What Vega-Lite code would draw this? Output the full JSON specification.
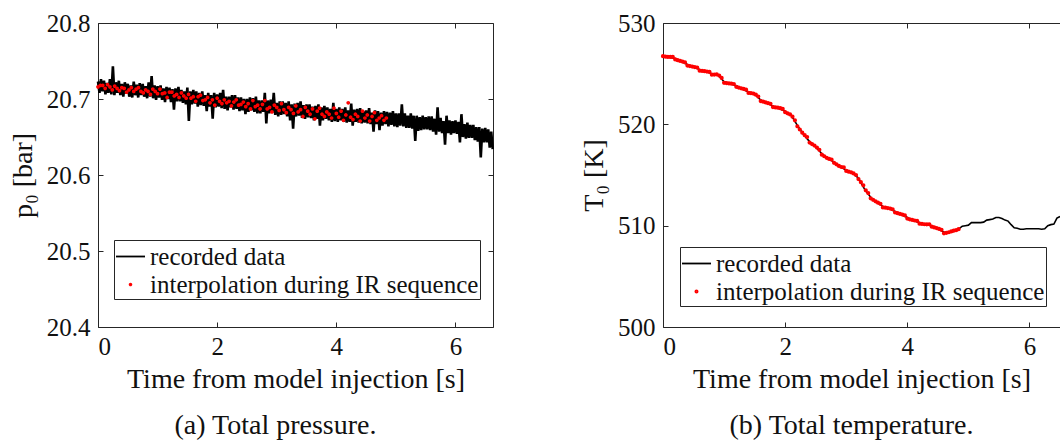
{
"$schema": "https://vega.github.io/schema/vega-lite/v6.json",
"padding": {"left": 9, "top": 11, "right": 0, "bottom": 0},
"background": "white",
"bounds": "flush",
"spacing": 170,
"config": {
 "font": "Liberation Serif",
 "view": {"stroke": null},
 "axis": {"grid": false, "domainColor": "#262626", "tickColor": "#262626", "labelColor": "#111111", "titleColor": "#111111", "labelFont": "Liberation Serif", "titleFont": "Liberation Serif", "labelFontSize": 25, "titleFontSize": 28, "titleFontWeight": "normal", "tickSize": -5, "domainWidth": 1, "tickWidth": 1},
 "legend": {"title": null, "orient": "none", "strokeColor": "#262626", "fillColor": "white", "padding": 1, "labelFont": "Liberation Serif", "labelFontSize": 25, "labelColor": "#111111", "labelLimit": 600, "labelOffset": 4, "symbolStrokeWidth": 1.8, "rowPadding": 2},
 "title": {"font": "Liberation Serif", "fontSize": 28, "fontWeight": "normal", "color": "#111111"}
},
"datasets": {
 "pRec": [
{"t":0,"v":20.723},{"t":0.025,"v":20.708},{"t":0.05,"v":20.726},{"t":0.075,"v":20.71},{"t":0.1,"v":20.724},{"t":0.125,"v":20.706},{"t":0.15,"v":20.721},{"t":0.175,"v":20.708},{"t":0.2,"v":20.726},{"t":0.225,"v":20.706},
{"t":0.25,"v":20.743},{"t":0.275,"v":20.705},{"t":0.3,"v":20.722},{"t":0.325,"v":20.708},{"t":0.35,"v":20.724},{"t":0.375,"v":20.705},{"t":0.4,"v":20.72},{"t":0.425,"v":20.703},{"t":0.45,"v":20.722},{"t":0.475,"v":20.707},
{"t":0.5,"v":20.72},{"t":0.525,"v":20.703},{"t":0.55,"v":20.718},{"t":0.575,"v":20.702},{"t":0.6,"v":20.723},{"t":0.625,"v":20.705},{"t":0.65,"v":20.719},{"t":0.675,"v":20.702},{"t":0.7,"v":20.721},{"t":0.725,"v":20.705},
{"t":0.75,"v":20.72},{"t":0.775,"v":20.703},{"t":0.8,"v":20.717},{"t":0.825,"v":20.701},{"t":0.85,"v":20.722},{"t":0.875,"v":20.703},{"t":0.9,"v":20.73},{"t":0.925,"v":20.701},{"t":0.95,"v":20.718},{"t":0.975,"v":20.699},
{"t":1.0,"v":20.717},{"t":1.025,"v":20.702},{"t":1.05,"v":20.718},{"t":1.075,"v":20.699},{"t":1.1,"v":20.714},{"t":1.125,"v":20.696},{"t":1.15,"v":20.716},{"t":1.175,"v":20.7},{"t":1.2,"v":20.715},{"t":1.225,"v":20.696},
{"t":1.25,"v":20.713},{"t":1.275,"v":20.686},{"t":1.3,"v":20.714},{"t":1.325,"v":20.697},{"t":1.35,"v":20.716},{"t":1.375,"v":20.697},{"t":1.4,"v":20.712},{"t":1.425,"v":20.695},{"t":1.45,"v":20.71},{"t":1.475,"v":20.693},
{"t":1.5,"v":20.715},{"t":1.525,"v":20.671},{"t":1.55,"v":20.71},{"t":1.575,"v":20.693},{"t":1.6,"v":20.712},{"t":1.625,"v":20.694},{"t":1.65,"v":20.71},{"t":1.675,"v":20.69},{"t":1.7,"v":20.708},{"t":1.725,"v":20.692},
{"t":1.75,"v":20.71},{"t":1.775,"v":20.691},{"t":1.8,"v":20.705},{"t":1.825,"v":20.684},{"t":1.85,"v":20.708},{"t":1.875,"v":20.69},{"t":1.9,"v":20.705},{"t":1.925,"v":20.674},{"t":1.95,"v":20.708},{"t":1.975,"v":20.689},
{"t":2.0,"v":20.706},{"t":2.025,"v":20.69},{"t":2.05,"v":20.708},{"t":2.075,"v":20.688},{"t":2.1,"v":20.712},{"t":2.125,"v":20.687},{"t":2.15,"v":20.703},{"t":2.175,"v":20.685},{"t":2.2,"v":20.703},{"t":2.225,"v":20.689},
{"t":2.25,"v":20.705},{"t":2.275,"v":20.686},{"t":2.3,"v":20.705},{"t":2.325,"v":20.687},{"t":2.35,"v":20.702},{"t":2.375,"v":20.684},{"t":2.4,"v":20.702},{"t":2.425,"v":20.685},{"t":2.45,"v":20.7},{"t":2.475,"v":20.68},
{"t":2.5,"v":20.7},{"t":2.525,"v":20.683},{"t":2.55,"v":20.702},{"t":2.575,"v":20.685},{"t":2.6,"v":20.701},{"t":2.625,"v":20.683},{"t":2.65,"v":20.703},{"t":2.675,"v":20.681},{"t":2.7,"v":20.698},{"t":2.725,"v":20.681},
{"t":2.75,"v":20.698},{"t":2.775,"v":20.683},{"t":2.8,"v":20.708},{"t":2.825,"v":20.668},{"t":2.85,"v":20.698},{"t":2.875,"v":20.681},{"t":2.9,"v":20.699},{"t":2.925,"v":20.682},{"t":2.95,"v":20.708},{"t":2.975,"v":20.679},
{"t":3.0,"v":20.695},{"t":3.025,"v":20.677},{"t":3.05,"v":20.697},{"t":3.075,"v":20.679},{"t":3.1,"v":20.697},{"t":3.125,"v":20.68},{"t":3.15,"v":20.695},{"t":3.175,"v":20.677},{"t":3.2,"v":20.697},{"t":3.225,"v":20.672},
{"t":3.25,"v":20.693},{"t":3.275,"v":20.661},{"t":3.3,"v":20.694},{"t":3.325,"v":20.677},{"t":3.35,"v":20.695},{"t":3.375,"v":20.678},{"t":3.4,"v":20.697},{"t":3.425,"v":20.675},{"t":3.45,"v":20.692},{"t":3.475,"v":20.674},
{"t":3.5,"v":20.693},{"t":3.525,"v":20.676},{"t":3.55,"v":20.693},{"t":3.575,"v":20.675},{"t":3.6,"v":20.69},{"t":3.625,"v":20.672},{"t":3.65,"v":20.691},{"t":3.675,"v":20.674},{"t":3.7,"v":20.693},{"t":3.725,"v":20.665},
{"t":3.75,"v":20.689},{"t":3.775,"v":20.672},{"t":3.8,"v":20.691},{"t":3.825,"v":20.674},{"t":3.85,"v":20.689},{"t":3.875,"v":20.672},{"t":3.9,"v":20.687},{"t":3.925,"v":20.67},{"t":3.95,"v":20.695},{"t":3.975,"v":20.671},
{"t":4.0,"v":20.687},{"t":4.025,"v":20.67},{"t":4.05,"v":20.689},{"t":4.075,"v":20.672},{"t":4.1,"v":20.687},{"t":4.125,"v":20.67},{"t":4.15,"v":20.689},{"t":4.175,"v":20.669},{"t":4.2,"v":20.685},{"t":4.225,"v":20.67},
{"t":4.25,"v":20.694},{"t":4.275,"v":20.665},{"t":4.3,"v":20.686},{"t":4.325,"v":20.67},{"t":4.35,"v":20.687},{"t":4.375,"v":20.669},{"t":4.4,"v":20.688},{"t":4.425,"v":20.668},{"t":4.45,"v":20.684},{"t":4.475,"v":20.669},
{"t":4.5,"v":20.685},{"t":4.525,"v":20.668},{"t":4.55,"v":20.688},{"t":4.575,"v":20.667},{"t":4.6,"v":20.682},{"t":4.625,"v":20.657},{"t":4.65,"v":20.685},{"t":4.675,"v":20.667},{"t":4.7,"v":20.684},{"t":4.725,"v":20.659},
{"t":4.75,"v":20.682},{"t":4.775,"v":20.665},{"t":4.8,"v":20.684},{"t":4.825,"v":20.667},{"t":4.85,"v":20.683},{"t":4.875,"v":20.664},{"t":4.9,"v":20.682},{"t":4.925,"v":20.666},{"t":4.95,"v":20.684},{"t":4.975,"v":20.664},
{"t":5.0,"v":20.681},{"t":5.025,"v":20.663},{"t":5.05,"v":20.681},{"t":5.075,"v":20.665},{"t":5.1,"v":20.693},{"t":5.125,"v":20.664},{"t":5.15,"v":20.681},{"t":5.175,"v":20.662},{"t":5.2,"v":20.678},{"t":5.225,"v":20.662},
{"t":5.25,"v":20.681},{"t":5.275,"v":20.661},{"t":5.3,"v":20.678},{"t":5.325,"v":20.645},{"t":5.35,"v":20.678},{"t":5.375,"v":20.658},{"t":5.4,"v":20.676},{"t":5.425,"v":20.659},{"t":5.45,"v":20.678},{"t":5.475,"v":20.66},
{"t":5.5,"v":20.676},{"t":5.525,"v":20.66},{"t":5.55,"v":20.677},{"t":5.575,"v":20.659},{"t":5.6,"v":20.677},{"t":5.625,"v":20.657},{"t":5.65,"v":20.674},{"t":5.675,"v":20.653},{"t":5.7,"v":20.689},{"t":5.725,"v":20.657},
{"t":5.75,"v":20.675},{"t":5.775,"v":20.655},{"t":5.8,"v":20.671},{"t":5.825,"v":20.64},{"t":5.85,"v":20.678},{"t":5.875,"v":20.655},{"t":5.9,"v":20.672},{"t":5.925,"v":20.653},{"t":5.95,"v":20.671},{"t":5.975,"v":20.655},
{"t":6.0,"v":20.672},{"t":6.025,"v":20.654},{"t":6.05,"v":20.67},{"t":6.075,"v":20.643},{"t":6.1,"v":20.68},{"t":6.125,"v":20.65},{"t":6.15,"v":20.667},{"t":6.175,"v":20.648},{"t":6.2,"v":20.669},{"t":6.225,"v":20.649},
{"t":6.25,"v":20.666},{"t":6.275,"v":20.649},{"t":6.3,"v":20.666},{"t":6.325,"v":20.646},{"t":6.35,"v":20.663},{"t":6.375,"v":20.644},{"t":6.4,"v":20.663},{"t":6.425,"v":20.623},{"t":6.45,"v":20.661},{"t":6.475,"v":20.643},
{"t":6.5,"v":20.662},{"t":6.525,"v":20.643},{"t":6.55,"v":20.66},{"t":6.575,"v":20.636},{"t":6.6,"v":20.657},{"t":6.625,"v":20.634}
 ],
 "pInt": [
{"t":0,"v":20.716},{"t":0.04,"v":20.718},{"t":0.08,"v":20.718},{"t":0.12,"v":20.714},{"t":0.16,"v":20.719},{"t":0.2,"v":20.716},{"t":0.24,"v":20.712},{"t":0.28,"v":20.717},{"t":0.32,"v":20.714},{"t":0.36,"v":20.711},
{"t":0.4,"v":20.715},{"t":0.44,"v":20.714},{"t":0.48,"v":20.709},{"t":0.52,"v":20.712},{"t":0.56,"v":20.715},{"t":0.6,"v":20.71},{"t":0.64,"v":20.713},{"t":0.68,"v":20.715},{"t":0.72,"v":20.71},{"t":0.76,"v":20.708},
{"t":0.8,"v":20.712},{"t":0.84,"v":20.71},{"t":0.88,"v":20.706},{"t":0.92,"v":20.713},{"t":0.96,"v":20.71},{"t":1.0,"v":20.707},{"t":1.04,"v":20.713},{"t":1.08,"v":20.707},{"t":1.12,"v":20.708},{"t":1.16,"v":20.702},
{"t":1.2,"v":20.709},{"t":1.24,"v":20.709},{"t":1.28,"v":20.704},{"t":1.32,"v":20.706},{"t":1.36,"v":20.702},{"t":1.4,"v":20.708},{"t":1.44,"v":20.704},{"t":1.48,"v":20.701},{"t":1.52,"v":20.706},{"t":1.56,"v":20.701},
{"t":1.6,"v":20.703},{"t":1.64,"v":20.697},{"t":1.68,"v":20.703},{"t":1.72,"v":20.705},{"t":1.76,"v":20.698},{"t":1.8,"v":20.699},{"t":1.84,"v":20.702},{"t":1.88,"v":20.695},{"t":1.92,"v":20.699},{"t":1.96,"v":20.692},
{"t":2.0,"v":20.701},{"t":2.04,"v":20.697},{"t":2.08,"v":20.694},{"t":2.12,"v":20.699},{"t":2.16,"v":20.695},{"t":2.2,"v":20.697},{"t":2.24,"v":20.691},{"t":2.28,"v":20.696},{"t":2.32,"v":20.699},{"t":2.36,"v":20.692},
{"t":2.4,"v":20.693},{"t":2.44,"v":20.696},{"t":2.48,"v":20.69},{"t":2.52,"v":20.694},{"t":2.56,"v":20.687},{"t":2.6,"v":20.698},{"t":2.64,"v":20.69},{"t":2.68,"v":20.692},{"t":2.72,"v":20.687},{"t":2.76,"v":20.693},
{"t":2.8,"v":20.698},{"t":2.84,"v":20.687},{"t":2.88,"v":20.689},{"t":2.92,"v":20.683},{"t":2.96,"v":20.692},{"t":3.0,"v":20.689},{"t":3.04,"v":20.685},{"t":3.08,"v":20.694},{"t":3.12,"v":20.686},{"t":3.16,"v":20.682},
{"t":3.2,"v":20.689},{"t":3.24,"v":20.686},{"t":3.28,"v":20.681},{"t":3.32,"v":20.691},{"t":3.36,"v":20.683},{"t":3.4,"v":20.686},{"t":3.44,"v":20.677},{"t":3.48,"v":20.689},{"t":3.52,"v":20.684},{"t":3.56,"v":20.68},
{"t":3.6,"v":20.687},{"t":3.64,"v":20.674},{"t":3.68,"v":20.684},{"t":3.72,"v":20.688},{"t":3.76,"v":20.68},{"t":3.8,"v":20.677},{"t":3.84,"v":20.683},{"t":3.88,"v":20.68},{"t":3.92,"v":20.675},{"t":3.96,"v":20.688},
{"t":4.0,"v":20.681},{"t":4.04,"v":20.676},{"t":4.08,"v":20.684},{"t":4.12,"v":20.672},{"t":4.16,"v":20.679},{"t":4.2,"v":20.695},{"t":4.24,"v":20.676},{"t":4.28,"v":20.673},{"t":4.32,"v":20.68},{"t":4.36,"v":20.677},
{"t":4.4,"v":20.671},{"t":4.44,"v":20.684},{"t":4.48,"v":20.675},{"t":4.52,"v":20.679},{"t":4.56,"v":20.671},{"t":4.6,"v":20.677},{"t":4.64,"v":20.682},{"t":4.68,"v":20.672},{"t":4.72,"v":20.675},{"t":4.76,"v":20.678},
{"t":4.8,"v":20.672},{"t":4.84,"v":20.675}
 ],
 "tRec": [
{"t":0,"v":526.75},{"t":0.2,"v":526.5},{"t":0.4,"v":525.9},{"t":0.6,"v":525.4},{"t":0.8,"v":525.0},{"t":0.9,"v":524.9},{"t":1.0,"v":524.2},{"t":1.2,"v":523.8},{"t":1.4,"v":523.2},{"t":1.5,"v":523.0},
{"t":1.6,"v":522.4},{"t":1.8,"v":521.8},{"t":2.0,"v":521.3},{"t":2.1,"v":520.9},{"t":2.2,"v":519.9},{"t":2.3,"v":519.0},{"t":2.4,"v":518.3},{"t":2.5,"v":517.8},{"t":2.6,"v":517.1},{"t":2.7,"v":516.6},
{"t":2.8,"v":516.3},{"t":2.9,"v":515.8},{"t":3.0,"v":515.5},{"t":3.1,"v":515.2},{"t":3.2,"v":514.7},{"t":3.3,"v":513.6},{"t":3.4,"v":512.8},{"t":3.5,"v":512.3},{"t":3.6,"v":511.9},{"t":3.7,"v":511.7},
{"t":3.8,"v":511.4},{"t":3.9,"v":511.1},{"t":4.0,"v":510.8},{"t":4.1,"v":510.5},{"t":4.2,"v":510.3},{"t":4.3,"v":510.1},{"t":4.4,"v":510.0},{"t":4.5,"v":509.7},{"t":4.6,"v":509.35},{"t":4.7,"v":509.35},
{"t":4.8,"v":509.5},{"t":4.85,"v":509.7},{"t":4.9,"v":509.95},{"t":4.95,"v":510.0},{"t":5.0,"v":510.05},{"t":5.05,"v":510.3},{"t":5.1,"v":510.3},{"t":5.15,"v":510.3},{"t":5.2,"v":510.3},{"t":5.25,"v":510.35},
{"t":5.3,"v":510.55},{"t":5.35,"v":510.6},{"t":5.4,"v":510.65},{"t":5.45,"v":510.8},{"t":5.5,"v":510.8},{"t":5.55,"v":510.7},{"t":5.6,"v":510.55},{"t":5.65,"v":510.45},{"t":5.7,"v":510.1},{"t":5.75,"v":509.8},
{"t":5.8,"v":509.75},{"t":5.85,"v":509.65},{"t":5.9,"v":509.65},{"t":5.95,"v":509.7},{"t":6.0,"v":509.7},{"t":6.05,"v":509.7},{"t":6.1,"v":509.7},{"t":6.15,"v":509.7},{"t":6.2,"v":509.65},{"t":6.25,"v":509.7},
{"t":6.3,"v":510.0},{"t":6.35,"v":510.1},{"t":6.4,"v":510.15},{"t":6.45,"v":510.75},{"t":6.5,"v":510.9}
 ],
 "tInt": [
{"t":0,"v":526.72},{"t":0.04,"v":526.68},{"t":0.08,"v":526.65},{"t":0.12,"v":526.65},{"t":0.16,"v":526.65},{"t":0.2,"v":526.4},{"t":0.24,"v":526.33},{"t":0.28,"v":526.26},{"t":0.32,"v":526.19},{"t":0.36,"v":526.12},
{"t":0.4,"v":525.8},{"t":0.44,"v":525.75},{"t":0.48,"v":525.7},{"t":0.52,"v":525.65},{"t":0.56,"v":525.6},{"t":0.6,"v":525.3},{"t":0.64,"v":525.27},{"t":0.68,"v":525.24},{"t":0.72,"v":525.21},{"t":0.76,"v":525.18},
{"t":0.8,"v":524.9},{"t":0.84,"v":524.91},{"t":0.88,"v":524.92},{"t":0.92,"v":524.81},{"t":0.96,"v":524.58},{"t":1.0,"v":524.1},{"t":1.04,"v":524.07},{"t":1.08,"v":524.04},{"t":1.12,"v":524.01},{"t":1.16,"v":523.98},
{"t":1.2,"v":523.7},{"t":1.24,"v":523.63},{"t":1.28,"v":523.56},{"t":1.32,"v":523.49},{"t":1.36,"v":523.42},{"t":1.4,"v":523.1},{"t":1.44,"v":523.07},{"t":1.48,"v":523.04},{"t":1.52,"v":522.93},{"t":1.56,"v":522.74},
{"t":1.6,"v":522.3},{"t":1.64,"v":522.23},{"t":1.68,"v":522.16},{"t":1.72,"v":522.09},{"t":1.76,"v":522.02},{"t":1.8,"v":521.7},{"t":1.84,"v":521.67},{"t":1.88,"v":521.64},{"t":1.92,"v":521.59},{"t":1.96,"v":521.52},
{"t":2.0,"v":521.2},{"t":2.04,"v":521.09},{"t":2.08,"v":520.98},{"t":2.12,"v":520.75},{"t":2.16,"v":520.4},{"t":2.2,"v":519.8},{"t":2.24,"v":519.49},{"t":2.28,"v":519.18},{"t":2.32,"v":518.93},{"t":2.36,"v":518.74},
{"t":2.4,"v":518.2},{"t":2.44,"v":518.05},{"t":2.48,"v":517.9},{"t":2.52,"v":517.71},{"t":2.56,"v":517.48},{"t":2.6,"v":517.0},{"t":2.64,"v":516.85},{"t":2.68,"v":516.7},{"t":2.72,"v":516.59},{"t":2.76,"v":516.52},
{"t":2.8,"v":516.2},{"t":2.84,"v":516.05},{"t":2.88,"v":515.9},{"t":2.92,"v":515.79},{"t":2.96,"v":515.76},{"t":3.0,"v":515.4},{"t":3.04,"v":515.33},{"t":3.08,"v":515.26},{"t":3.12,"v":515.15},{"t":3.16,"v":515.0},
{"t":3.2,"v":514.6},{"t":3.24,"v":514.29},{"t":3.28,"v":513.98},{"t":3.32,"v":513.49},{"t":3.36,"v":513.22},{"t":3.4,"v":512.7},{"t":3.44,"v":512.55},{"t":3.48,"v":512.4},{"t":3.52,"v":512.27},{"t":3.56,"v":512.16},
{"t":3.6,"v":511.8},{"t":3.64,"v":511.77},{"t":3.68,"v":511.74},{"t":3.72,"v":511.69},{"t":3.76,"v":511.62},{"t":3.8,"v":511.3},{"t":3.84,"v":511.23},{"t":3.88,"v":511.16},{"t":3.92,"v":511.09},{"t":3.96,"v":511.02},
{"t":4.0,"v":510.7},{"t":4.04,"v":510.63},{"t":4.08,"v":510.56},{"t":4.12,"v":510.51},{"t":4.16,"v":510.48},{"t":4.2,"v":510.2},{"t":4.24,"v":510.17},{"t":4.28,"v":510.14},{"t":4.32,"v":510.13},{"t":4.36,"v":510.14},
{"t":4.4,"v":509.9},{"t":4.44,"v":509.83},{"t":4.48,"v":509.76},{"t":4.52,"v":509.68},{"t":4.56,"v":509.59},{"t":4.6,"v":509.25},{"t":4.64,"v":509.3},{"t":4.68,"v":509.35},{"t":4.72,"v":509.43},{"t":4.76,"v":509.5},
{"t":4.8,"v":509.55},{"t":4.84,"v":509.65}
 ]
},
"resolve": {"scale": {"color": "independent", "shape": "independent", "size": "independent"}},
"hconcat": [
 {
  "width": 395, "height": 304,
  "title": {"text": "(a) Total pressure.", "orient": "bottom", "anchor": "middle", "dx": -20, "offset": 19},
  "resolve": {"axis": {"x": "independent", "y": "independent"}},
  "layer": [
   {
    "data": {"name": "pRec"},
    "mark": {"type": "line", "strokeWidth": 2.6},
    "encoding": {
     "x": {"field": "t", "type": "quantitative", "scale": {"domain": [0, 6.63], "nice": false, "zero": false}, "axis": {"orient": "bottom", "values": [0, 2, 4, 6], "title": "Time from model injection [s]", "labelPadding": 12, "titlePadding": 6}},
     "y": {"field": "v", "type": "quantitative", "scale": {"domain": [20.4, 20.8], "nice": false, "zero": false}, "axis": {"orient": "left", "values": [20.4, 20.5, 20.6, 20.7, 20.8], "format": ".1f", "title": "p₀ [bar]", "labelPadding": 13, "titlePadding": 9}},
     "color": {"datum": "recorded data", "scale": {"domain": ["recorded data", "interpolation during IR sequence"], "range": ["#000000", "#ff0000"]}, "legend": {"legendX": 16, "legendY": 217}}
    }
   },
   {
    "data": {"name": "pInt"},
    "mark": {"type": "point", "filled": false, "strokeWidth": 2, "opacity": 1},
    "encoding": {
     "x": {"field": "t", "type": "quantitative", "scale": {"domain": [0, 6.63], "nice": false, "zero": false}, "axis": {"orient": "top", "values": [0, 2, 4, 6], "labels": false, "title": null}},
     "y": {"field": "v", "type": "quantitative", "scale": {"domain": [20.4, 20.8], "nice": false, "zero": false}, "axis": {"orient": "right", "values": [20.4, 20.5, 20.6, 20.7, 20.8], "labels": false, "title": null}},
     "color": {"datum": "interpolation during IR sequence", "scale": {"domain": ["recorded data", "interpolation during IR sequence"], "range": ["#000000", "#ff0000"]}, "legend": {"legendX": 16, "legendY": 217}},
     "shape": {"datum": "interpolation during IR sequence", "scale": {"domain": ["recorded data", "interpolation during IR sequence"], "range": ["stroke", "circle"]}, "legend": {"legendX": 16, "legendY": 217}},
     "size": {"datum": "interpolation during IR sequence", "scale": {"domain": ["recorded data", "interpolation during IR sequence"], "range": [841, 3]}, "legend": {"legendX": 16, "legendY": 217}}
    }
   }
  ]
 },
 {
  "width": 397, "height": 304,
  "title": {"text": "(b) Total temperature.", "orient": "bottom", "anchor": "middle", "dx": -10, "offset": 19},
  "resolve": {"axis": {"x": "independent", "y": "independent"}},
  "layer": [
   {
    "data": {"name": "tRec"},
    "mark": {"type": "line", "strokeWidth": 1.6},
    "encoding": {
     "x": {"field": "t", "type": "quantitative", "scale": {"domain": [0, 6.5], "nice": false, "zero": false}, "axis": {"orient": "bottom", "values": [0, 2, 4, 6], "title": "Time from model injection [s]", "labelPadding": 12, "titlePadding": 6}},
     "y": {"field": "v", "type": "quantitative", "scale": {"domain": [500, 530], "nice": false, "zero": false}, "axis": {"orient": "left", "values": [500, 510, 520, 530], "title": "T₀ [K]", "labelPadding": 13, "titlePadding": 9}},
     "color": {"datum": "recorded data", "scale": {"domain": ["recorded data", "interpolation during IR sequence"], "range": ["#000000", "#ff0000"]}, "legend": {"legendX": 17, "legendY": 224}}
    }
   },
   {
    "data": {"name": "tInt"},
    "mark": {"type": "point", "filled": false, "strokeWidth": 2, "opacity": 1},
    "encoding": {
     "x": {"field": "t", "type": "quantitative", "scale": {"domain": [0, 6.5], "nice": false, "zero": false}, "axis": {"orient": "top", "values": [0, 2, 4, 6], "labels": false, "title": null}},
     "y": {"field": "v", "type": "quantitative", "scale": {"domain": [500, 530], "nice": false, "zero": false}, "axis": null},
     "color": {"datum": "interpolation during IR sequence", "scale": {"domain": ["recorded data", "interpolation during IR sequence"], "range": ["#000000", "#ff0000"]}, "legend": {"legendX": 17, "legendY": 224}},
     "shape": {"datum": "interpolation during IR sequence", "scale": {"domain": ["recorded data", "interpolation during IR sequence"], "range": ["stroke", "circle"]}, "legend": {"legendX": 17, "legendY": 224}},
     "size": {"datum": "interpolation during IR sequence", "scale": {"domain": ["recorded data", "interpolation during IR sequence"], "range": [841, 5]}, "legend": {"legendX": 17, "legendY": 224}}
    }
   }
  ]
 }
]
}
